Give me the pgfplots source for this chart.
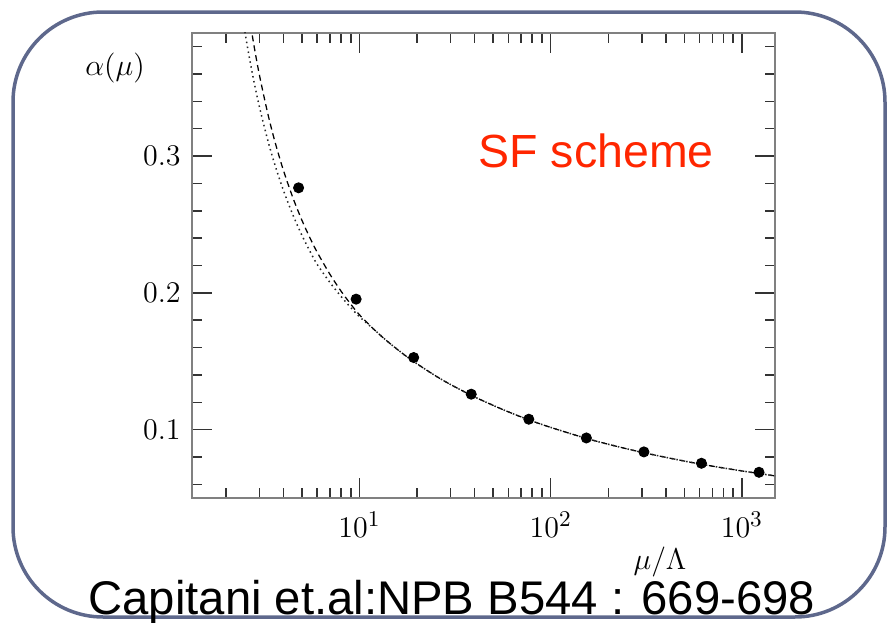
\documentclass[border=0pt]{standalone}
\usepackage{fontspec}
\usepackage{pgfplots}
\pgfplotsset{compat=1.18}
\newfontfamily\arialfont{Liberation Sans}
\definecolor{framecol}{RGB}{94,104,140}
\definecolor{sfred}{RGB}{255,38,0}

\begin{document}
\begin{tikzpicture}[x=0.4pt,y=0.4pt]
\path[use as bounding box] (0,0) rectangle (888,622);
\draw[framecol, line width=1.4pt, rounded corners=36pt] (13,5) rectangle (885,610);

\begin{axis}[
    at={(76.8pt,49.6pt)}, anchor=south west,
    width=233.2pt, height=186pt, scale only axis,
    xmode=log, xmin=1.33, xmax=1490,
    ymin=0.05, ymax=0.39,
    xtick={10,100,1000},
    minor xtick={2,3,4,5,6,7,8,9,20,30,40,50,60,70,80,90,200,300,400,500,600,700,800,900},
    ytick={0.1,0.2,0.3},
    minor ytick={0.06,0.08,0.12,0.14,0.16,0.18,0.22,0.24,0.26,0.28,0.32,0.34,0.36,0.38},
    major tick length=8pt, minor tick length=4pt,
    axis line style={black!50, line width=0.8pt},
    every tick/.style={black!80, line width=0.6pt},
    tick label style={font=\fontsize{12.5}{14}\selectfont},
    xticklabel style={yshift=-2pt},
    yticklabel style={xshift=-1pt},
    ]
    % dashed curve
    \addplot[black, line width=0.5pt, dash pattern=on 2.4pt off 1.6pt, smooth] coordinates {
        (2.4,0.4461)(2.6,0.4097)(2.8,0.3815)(3.0,0.3588)(3.3,0.3321)(3.6,0.3112)
        (4.0,0.2895)(4.5,0.2689)(5.0,0.2530)(5.5,0.2403)(6,0.2298)(7,0.2136)
        (8,0.2013)(9,0.1917)(10,0.1839)(12,0.1728)(14,0.1645)(17,0.1551)
        (20,0.1481)(25,0.1393)(30,0.1329)(40,0.1239)(55,0.1152)(75,0.1077)
        (100,0.1016)(150,0.0940)(200,0.0893)(300,0.0834)(500,0.0770)
        (700,0.0733)(1000,0.0698)(1500,0.0661)
    };
    % dotted curve
    \addplot[black!85, line width=0.6pt, dash pattern=on 0.6pt off 1.4pt, smooth] coordinates {
        (2.2,0.4488)(2.4,0.4090)(2.6,0.3789)(2.8,0.3550)(3.0,0.3356)(3.3,0.3124)
        (3.6,0.2941)(4.0,0.2749)(4.5,0.2564)(5.0,0.2420)(5.5,0.2305)(6,0.2209)
        (7,0.2076)(8,0.1974)(9,0.1892)(10,0.1825)(12,0.1728)(14,0.1645)
        (17,0.1551)(20,0.1481)(25,0.1393)(30,0.1329)(40,0.1239)(55,0.1152)
        (75,0.1077)(100,0.1016)(150,0.0940)(200,0.0893)(300,0.0834)
        (500,0.0770)(700,0.0733)(1000,0.0698)(1500,0.0661)
    };
    % data points
    \addplot[only marks, mark=*, mark size=2pt, black] coordinates {
        (4.8,0.2768)(9.6,0.1954)(19.2,0.1527)(38.4,0.1259)(76.8,0.1076)
        (153.6,0.0939)(307.2,0.0837)(614.4,0.0754)(1228.8,0.0688)
    };
\end{axis}

\node at (115,554) {\fontsize{13}{15}\selectfont$\alpha(\mu)$};
\node at (660,60) {\fontsize{13}{15}\selectfont$\mu/\Lambda$};
\node[anchor=base west, inner sep=0pt, text=sfred, font=\arialfont\fontsize{18.6}{20}\selectfont] at (478,455) {SF scheme};
\node[anchor=base west, inner sep=0pt, font=\arialfont\fontsize{18.9}{22}\selectfont] at (88,8) {Capitani et.al:NPB B544 : 669-698};
\end{tikzpicture}
\end{document}
